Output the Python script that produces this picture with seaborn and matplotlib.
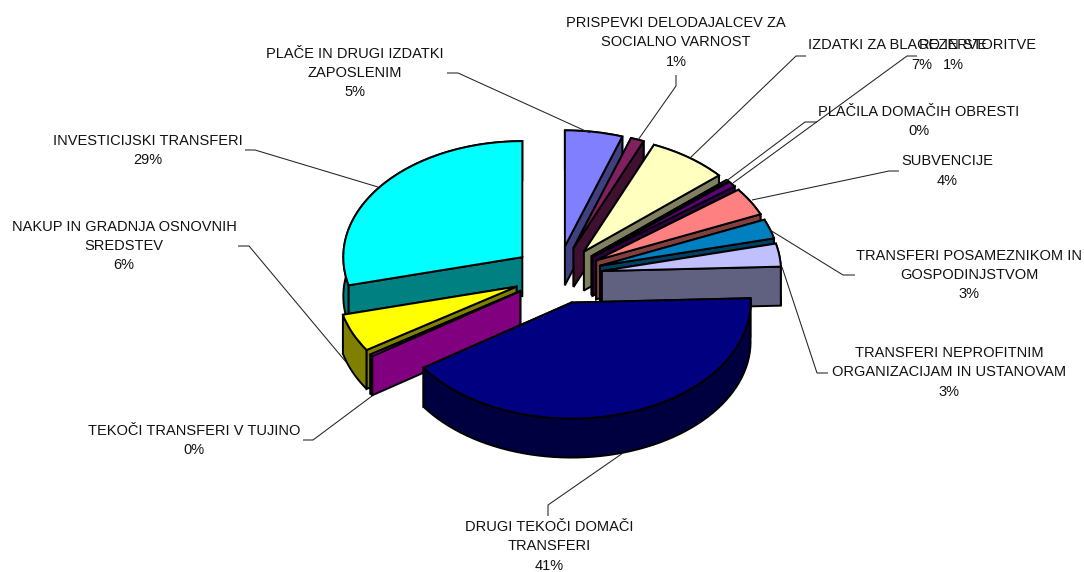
import numpy as np
import seaborn as sns
import matplotlib.pyplot as plt
from matplotlib.patches import Polygon

# slices clockwise from 12 o'clock
categories = [
    "PLAČE IN DRUGI IZDATKI\nZAPOSLENIM",
    "PRISPEVKI DELODAJALCEV ZA\nSOCIALNO VARNOST",
    "IZDATKI ZA BLAGO IN STORITVE",
    "PLAČILA DOMAČIH OBRESTI",
    "REZERVE",
    "SUBVENCIJE",
    "TRANSFERI POSAMEZNIKOM IN\nGOSPODINJSTVOM",
    "TRANSFERI NEPROFITNIM\nORGANIZACIJAM IN USTANOVAM",
    "DRUGI TEKOČI DOMAČI\nTRANSFERI",
    "TEKOČI TRANSFERI V TUJINO",
    "NAKUP IN GRADNJA OSNOVNIH\nSREDSTEV",
    "INVESTICIJSKI TRANSFERI",
]
shares = [5.2, 1.2, 7.2, 0.25, 0.75, 3.9, 2.7, 3.2, 41.1, 0.3, 5.3, 28.9]
percent_labels = ["5%", "1%", "7%", "0%", "1%", "4%", "3%", "3%", "41%", "0%", "6%", "29%"]
slice_colors = ["#8080FF", "#802060", "#FFFFC0", "#C0FFFF", "#600080", "#FF8080",
                "#0080C0", "#C0C0FF", "#000080", "#FF00FF", "#FFFF00", "#00FFFF"]

# label centres and leader lines, in picture pixels
label_xy = [(355, 73), (676, 42.5), (922, 55), (919, 121.5), (953, 55), (947, 171),
            (969, 275), (949, 372.5), (549, 546.5), (194, 440.5), (124, 246), (148, 150.5)]
leaders = [
    [(447, 73), (458, 73), (590, 133)],
    [(676, 75), (676, 86), (638, 140)],
    [(806, 56), (796, 56), (690, 158)],
    [(817, 122), (805, 122), (725, 182)],
    [(917, 56), (907, 56), (733, 183)],
    [(899, 171), (889, 171), (752, 200)],
    [(855, 275), (843, 275), (770, 230)],
    [(828, 373), (817, 373), (782, 267)],
    [(548, 516), (548, 505), (623, 453)],
    [(303, 440), (313, 440), (372, 396)],
    [(238, 246), (249, 246), (346, 362)],
    [(245, 150), (255, 150), (378, 187)],
]

W, H = 1084, 572
CX, CY = 557.6, 275.0
RX, RY = 179.0, 116.0
DEPTH = 39.0 / RY
EXPLODE = 0.25
EDGE = 1.4


def side_faces(wedge, dark, rank, ax):
    """Walls of one pulled-out slice, the ones facing away drawn first."""
    cx, cy = wedge.center
    t1, t2 = np.radians(wedge.theta1), np.radians(wedge.theta2)
    arc = np.linspace(t1, t2, 60)
    top_arc = np.column_stack([cx + np.cos(arc), cy + np.sin(arc)])
    low_arc = top_arc - [0, DEPTH]
    vertex = np.array([cx, cy])

    def radial(t):
        edge = vertex + [np.cos(t), np.sin(t)]
        return [vertex, edge, edge - [0, DEPTH], vertex - [0, DEPTH]]

    faces = [
        (np.sin((t1 + t2) / 2), np.vstack([top_arc, low_arc[::-1]])),
        (np.sin(t1 - np.pi / 2), radial(t1)),
        (np.sin(t2 + np.pi / 2), radial(t2)),
    ]
    for step, (_, pts) in enumerate(sorted(faces, key=lambda f: -f[0])):
        ax.add_patch(Polygon(pts, closed=True, facecolor=dark, edgecolor="black",
                             linewidth=EDGE, zorder=rank + step * 0.1))


def plot_pie() -> None:
    sns.set_theme(style="white")
    plt.rcParams["font.family"] = ["Liberation Sans", "DejaVu Sans"]

    palette = sns.color_palette(slice_colors)
    fig = plt.figure(figsize=(W / 100, H / 100), dpi=100)
    ax = fig.add_axes([0, 0, 1, 1])

    wedges, _ = ax.pie(
        shares,
        colors=palette,
        explode=[EXPLODE] * len(shares),
        startangle=90,
        counterclock=False,
        wedgeprops={"edgecolor": "black", "linewidth": EDGE},
    )
    ax.set_aspect("auto")
    ax.set_xlim(-CX / RX, (W - CX) / RX)
    ax.set_ylim((CY - H) / RY, CY / RY)

    # back slices first so the front ones cover them
    order = sorted(range(len(wedges)), key=lambda i: -wedges[i].center[1])
    for rank, i in enumerate(order):
        dark = tuple(c * 0.5 for c in palette[i])
        side_faces(wedges[i], dark, 2 + rank, ax)
        wedges[i].set_zorder(2 + rank + 0.5)

    overlay = fig.add_axes([0, 0, 1, 1], facecolor="none")
    overlay.set_xlim(0, W)
    overlay.set_ylim(H, 0)
    overlay.axis("off")
    for line in leaders:
        xs, ys = zip(*line)
        overlay.plot(xs, ys, color="#222222", linewidth=0.75, solid_capstyle="butt")
    for name, pct, (x, y) in zip(categories, percent_labels, label_xy):
        overlay.text(x, y, f"{name}\n{pct}", ha="center", va="center", fontsize=10.5,
                     linespacing=1.47, color="#111111")

    fig.savefig("out.png", dpi=100)
    plt.close(fig)


if __name__ == "__main__":
    plot_pie()
